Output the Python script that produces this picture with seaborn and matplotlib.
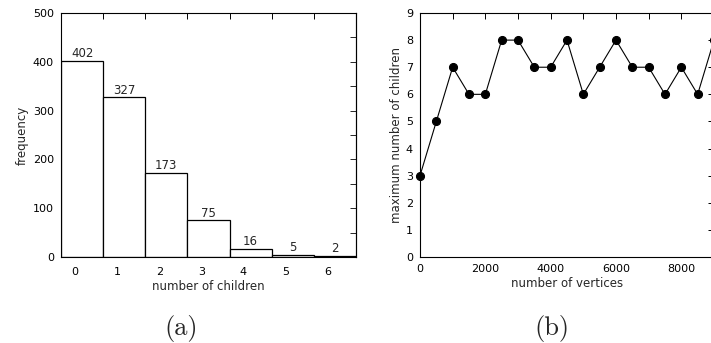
import numpy as np
import matplotlib
matplotlib.use("Agg")
import matplotlib.pyplot as plt
import seaborn as sns

# (a) histogram of number of children
children = [0, 1, 2, 3, 4, 5, 6]
frequency = [402, 327, 173, 75, 16, 5, 2]

# (b) maximum number of children vs number of vertices
vertices = [0, 500, 1000, 1500, 2000, 2500, 3000, 3500, 4000, 4500,
            5000, 5500, 6000, 6500, 7000, 7500, 8000, 8500, 9000]
max_children = [3, 5, 7, 6, 6, 8, 8, 7, 7, 8, 6, 7, 8, 7, 7, 6, 7, 6, 8]

sns.set_theme(style="white")
plt.rcParams["font.family"] = ["DejaVu Sans"]
plt.rcParams["font.size"] = 8

W, H = 711, 343
TICK_FS = 8
LABEL_FS = 8.5

fig = plt.figure(figsize=(W / 100, H / 100), dpi=100)
ax1 = fig.add_axes([61 / W, 86 / H, 295 / W, 244 / H])
ax2 = fig.add_axes([420 / W, 86 / H, 294 / W, 244 / H])


def style_axes(ax):
    for s in ax.spines.values():
        s.set_color("black")
        s.set_linewidth(0.8)
    ax.tick_params(which="both", direction="in", length=4, width=0.7,
                   colors="black", labelsize=TICK_FS, pad=5)


# left panel
sns.barplot(x=children, y=frequency, native_scale=True, width=1,
            color="white", edgecolor="black", linewidth=0.9,
            saturation=1, errorbar=None, ax=ax1)
for x, f in zip(children, frequency):
    ax1.text(x, f + 1.5, str(f), ha="center", va="bottom", fontsize=LABEL_FS)
ax1.set_xlim(-0.5, 6.5)
ax1.set_ylim(0, 500)
style_axes(ax1)
ax1.set_xticks(np.arange(0.5, 6, 1))
ax1.set_xticklabels([])
ax1.set_xticks(np.array(children) - 0.17, minor=True)
ax1.set_xticklabels([str(c) for c in children], minor=True)
ax1.tick_params(axis="x", which="minor", length=0, pad=7)
ax1.tick_params(axis="x", which="major", top=True)
ax1.set_yticks(range(0, 501, 100))
sec = ax1.secondary_yaxis("right")
sec.set_yticks(range(0, 501, 50))
sec.tick_params(direction="in", length=4, width=0.7, labelright=False)
sec.spines["right"].set_linewidth(0.8)
ax1.set_xlabel("number of children", fontsize=LABEL_FS, labelpad=2)
ax1.set_ylabel("frequency", fontsize=LABEL_FS, labelpad=3)

# right panel
sns.lineplot(x=vertices, y=max_children, color="black", linewidth=0.8,
             marker="o", markersize=5.8, markeredgecolor="black",
             clip_on=False, ax=ax2)
ax2.set_xlim(0, 9000)
ax2.set_ylim(0, 9)
style_axes(ax2)
ax2.set_xticks(range(0, 9000, 2000))
ax2.set_xticks(range(0, 9001, 1000), minor=True)
ax2.set_yticks(range(0, 10))
ax2.tick_params(which="both", top=True, right=True)
ax2.set_xlabel("number of vertices", fontsize=LABEL_FS, labelpad=2)
ax2.set_ylabel("maximum number of children", fontsize=LABEL_FS, labelpad=2)

fig.text(181.5 / W, (H - 328.5) / H, "(a)", family="cmr10", fontsize=19,
         ha="center", va="center")
fig.text(551.5 / W, (H - 328.5) / H, "(b)", family="cmr10", fontsize=19,
         ha="center", va="center")

fig.savefig("out.png", dpi=100)
